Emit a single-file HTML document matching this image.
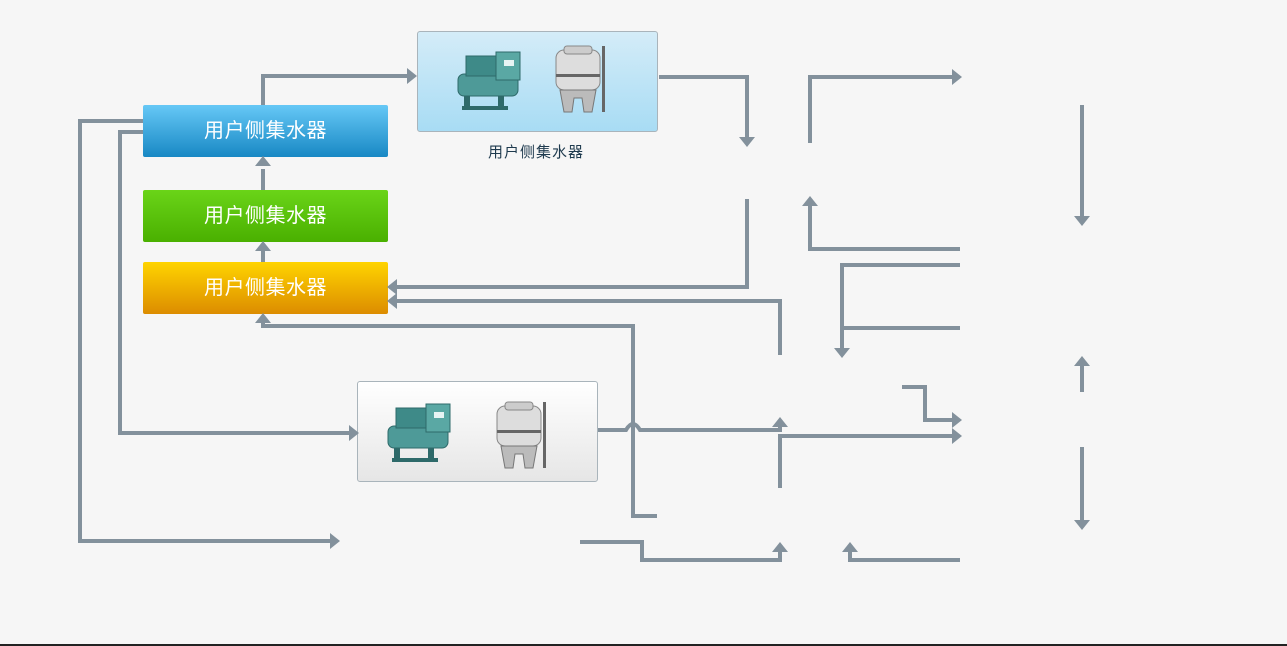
<!DOCTYPE html>
<html><head><meta charset="utf-8"><style>
html,body{margin:0;padding:0;width:1287px;height:646px;background:#f6f6f6;overflow:hidden;font-family:"Liberation Sans","Noto Sans CJK SC",sans-serif}
.b{position:absolute;left:143px;width:245px;height:52px;border-radius:2px;color:#fff;font-size:20px;line-height:52px;text-align:center;letter-spacing:0.5px}
.box{position:absolute;width:239px;height:99px;border:1px solid #a9b4bb;border-radius:3px}
</style></head><body>
<div class="b" style="top:105px;background:linear-gradient(#66c8f6,#1888c4)">用户侧集水器</div>
<div class="b" style="top:190px;background:linear-gradient(#6ad418,#4ab000)">用户侧集水器</div>
<div class="b" style="top:262px;background:linear-gradient(#ffd400,#dc8c00)">用户侧集水器</div>
<div class="box" style="left:417px;top:31px;background:linear-gradient(#d4ecf8,#a8dcf4)"></div>
<div class="box" style="left:357px;top:381px;background:linear-gradient(#ffffff,#e6e6e6)"></div>
<div style="position:absolute;left:488px;top:141px;font-size:15px;color:#1e3a4e;letter-spacing:1px">用户侧集水器</div>
<div style="position:absolute;left:0;top:644px;width:1287px;height:2px;background:#222"></div>
<svg width="1287" height="646" style="position:absolute;left:0;top:0">
<defs>
<g id="ch">
<rect x="0" y="24" width="60" height="22" rx="6" fill="#4e9a98" stroke="#2e6a6a"/>
<rect x="8" y="6" width="38" height="20" fill="#3e8a88" stroke="#2e6a6a"/>
<rect x="38" y="2" width="24" height="28" fill="#5aa8a4" stroke="#2e6a6a"/>
<rect x="46" y="10" width="10" height="6" fill="#e8f4f4"/>
<rect x="6" y="46" width="6" height="14" fill="#2e6a6a"/><rect x="40" y="46" width="6" height="14" fill="#2e6a6a"/>
<rect x="4" y="56" width="46" height="4" fill="#2e6a6a"/>
</g>
<g id="ct">
<rect x="2" y="8" width="44" height="40" rx="8" fill="#ddd" stroke="#888"/>
<rect x="10" y="4" width="28" height="8" rx="3" fill="#ccc" stroke="#888"/>
<rect x="2" y="32" width="44" height="3" fill="#666"/>
<path d="M6 48 L10 70 L18 70 L20 56 L28 56 L30 70 L38 70 L42 48Z" fill="#bbb" stroke="#777"/>
<rect x="48" y="4" width="3" height="66" fill="#666"/>
</g>
</defs>
<use href="#ch" x="458" y="50"/><use href="#ct" x="554" y="42"/>
<use href="#ch" x="388" y="402"/><use href="#ct" x="495" y="398"/>
<g fill="none" stroke="#83919c" stroke-width="4">
<path d="M263 105V76H408"/>
<path d="M143 121H80V541H331"/>
<path d="M143 132H120V433H350"/>
<path d="M263 190V169M263 262V250"/>
<path d="M659 77H747V138"/>
<path d="M747 199V287H395"/>
<path d="M780 355V301H395"/>
<path d="M657 516H633V326H263V322"/>
<path d="M598 430H626Q633 418 640 430H780V424"/>
<path d="M780 488V436H953"/>
<path d="M902 387H925V420H953"/>
<path d="M580 542H642V560H780V551"/>
<path d="M960 560H850V551"/>
<path d="M810 143V77H953"/>
<path d="M1082 105V216"/>
<path d="M960 249H810V205"/>
<path d="M960 265H842V348M960 328H842"/>
<path d="M1082 392V365"/>
<path d="M1082 447V520"/>
</g>
<g fill="#83919c">
<path d="M417 76l-10-8v16z"/>
<path d="M340 541l-10-8v16z"/>
<path d="M359 433l-10-8v16z"/>
<path d="M263 156l-8 10h16z"/><path d="M263 241l-8 10h16z"/><path d="M263 313l-8 10h16z"/>
<path d="M747 147l-8-10h16z"/>
<path d="M387 287l10-8v16z"/><path d="M387 301l10-8v16z"/>
<path d="M780 417l-8 10h16z"/>
<path d="M962 436l-10-8v16z"/><path d="M962 420l-10-8v16z"/>
<path d="M780 542l-8 10h16z"/><path d="M850 542l-8 10h16z"/>
<path d="M962 77l-10-8v16z"/>
<path d="M1082 226l-8-10h16z"/>
<path d="M810 196l-8 10h16z"/>
<path d="M842 358l-8-10h16z"/>
<path d="M1082 356l-8 10h16z"/>
<path d="M1082 530l-8-10h16z"/>
</g>
</svg>
</body></html>
